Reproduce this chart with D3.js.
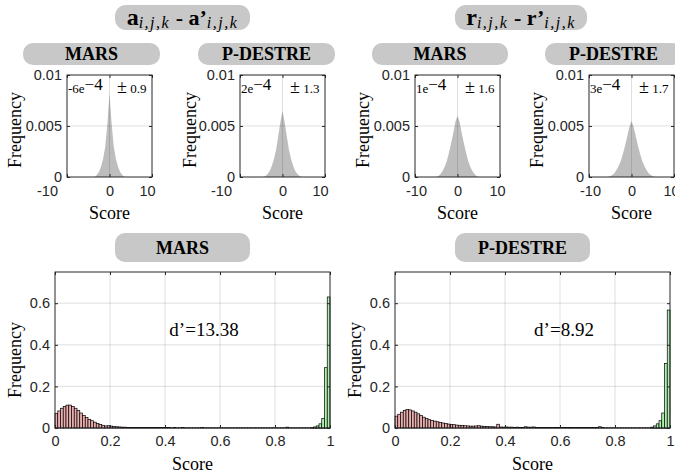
<!doctype html>
<html>
<head>
<meta charset="utf-8">
<script src="https://d3js.org/d3.v7.min.js"></script>
<style>
    body { margin: 0; background: #fff; }
    .tick text { font-family: "Liberation Sans", Arial, sans-serif; fill: #262626; }
    .lbl { font-family: "Liberation Serif", "Times New Roman", serif; fill: #000; }
</style>
</head>
<body>
<svg width="675" height="475" id="chart"></svg>
<script>
    // small histograms: score grid and frequencies
    var diffScore = [-6, -5.5, -5, -4.5, -4, -3.5, -3, -2.5, -2, -1.5, -1, -0.5, 0,
                     0.5, 1, 1.5, 2, 2.5, 3, 3.5, 4, 4.5, 5, 5.5, 6];
    var aMars    = [0, 0, 0, 0, 0, 0, 0.0002, 0.0005, 0.0010, 0.0018, 0.0030, 0.0052, 0.0082,
                    0.0052, 0.0030, 0.0018, 0.0010, 0.0005, 0.0002, 0, 0, 0, 0, 0, 0];
    var aDestre  = [0, 0, 0, 0, 0.0001, 0.0003, 0.0006, 0.0011, 0.0018, 0.0027, 0.0040, 0.0054, 0.0065,
                    0.0054, 0.0040, 0.0027, 0.0018, 0.0011, 0.0006, 0.0003, 0.0001, 0, 0, 0, 0];
    var rMars    = [0, 0, 0, 0.0001, 0.0003, 0.0006, 0.0010, 0.0016, 0.0024, 0.0033, 0.0043, 0.0054, 0.0060,
                    0.0054, 0.0043, 0.0033, 0.0024, 0.0016, 0.0010, 0.0006, 0.0003, 0.0001, 0, 0, 0];
    var rDestre  = [0, 0, 0.0001, 0.0002, 0.0004, 0.0007, 0.0011, 0.0016, 0.0023, 0.0031, 0.0040, 0.0049, 0.0055,
                    0.0049, 0.0040, 0.0031, 0.0023, 0.0016, 0.0011, 0.0007, 0.0004, 0.0002, 0.0001, 0, 0];
    var smallNotes = [["-6e", "0.9"], ["2e", "1.3"], ["1e", "1.6"], ["3e", "1.7"]];
    var smallXTicks = [-10, 0, 10];
    var smallYTicks = [0, 0.005, 0.01];

    // large histograms, bins of 0.01
    var impostorMars = [
        .070,.082,.095,.104,.110,.110,.104,.095,.085,.072,
        .060,.050,.041,.035,.028,.022,.017,.013,.010,.011,
        .009,.007,.006,.005,.004,.004,.003,.003,.003,.002,
        .003,.002,.002,.002,.003,.002,.002,.002,.002,.002,
        .002,.002,.001,.002,.001,.001,.002,.001,.001,.001,
        .001,.001,.001,.002,.001,.001,.001,.001,.001,.001,
        .001,.001,.001,.001,.001,.001,.001,.001,.001,.001,
        .001,.001,.001,.001,.001,.001,.001,.001,.001,.001,
        .001,.001,.001,.001,.004,.001,.001,.001,.001,.001,
        .001,.001,.001,.001,.001,.001,.001,.001,.001,.001];
    var impostorDestre = [
        .057,.066,.076,.085,.089,.087,.082,.076,.068,.060,
        .052,.045,.040,.036,.033,.030,.027,.024,.021,.019,
        .017,.016,.014,.013,.012,.011,.010,.009,.009,.010,
        .011,.009,.008,.007,.006,.006,.005,.018,.005,.004,
        .005,.004,.004,.003,.004,.003,.003,.006,.004,.004,
        .005,.003,.003,.002,.002,.002,.002,.002,.002,.002,
        .002,.002,.002,.002,.002,.002,.003,.002,.002,.002,
        .002,.002,.002,.002,.006,.002,.001,.001,.001,.001,
        .001,.001,.001,.001,.001,.001,.001,.001,.001,.001,
        .001,.001,.001,.001,.001,.001,.001,.001,.001,.001];
    var genuineBins = [0.90, 0.91, 0.92, 0.93, 0.94, 0.95, 0.96, 0.97, 0.98, 0.99];
    var genuineMars   = [0, 0, 0, 0.001, 0.005, 0.010, 0.020, 0.045, 0.290, 0.630];
    var genuineDestre = [0, 0, 0, 0.004, 0.010, 0.020, 0.035, 0.072, 0.310, 0.567];
    var bigXTicks = [0, 0.2, 0.4, 0.6, 0.8, 1];
    var bigYTicks = [0, 0.2, 0.4, 0.6];
    var dPrime = ["d’=13.38", "d’=8.92"];

    var svg = d3.select("#chart");

    function pill(x0, x1, y0, y1, r) {
        svg.append("rect").attr("x", x0).attr("y", y0)
           .attr("width", x1 - x0).attr("height", y1 - y0)
           .attr("rx", r).attr("ry", r).attr("fill", "#c8c8c8");
    }
    function pillText(x0, x1, y0, y1, txt) {
        pill(x0, x1, y0, y1, 10);
        svg.append("text").attr("class", "lbl")
           .attr("x", (x0 + x1) / 2).attr("y", (y0 + y1) / 2 + 6)
           .attr("text-anchor", "middle").attr("font-size", "18px")
           .attr("font-weight", "bold").text(txt);
    }

    // top formula titles
    function formula(x0, x1, letter) {
        pill(x0, x1, 5, 30, 11);
        var t = svg.append("text").attr("class", "lbl")
                   .attr("x", (x0 + x1) / 2).attr("y", 25).attr("text-anchor", "middle");
        t.append("tspan").attr("font-weight", "bold").attr("font-size", "24px").text(letter);
        t.append("tspan").attr("font-style", "italic").attr("font-size", "16px")
         .attr("letter-spacing", "1.5px").attr("dy", 3).text("i,j,k");
        t.append("tspan").attr("font-weight", "bold").attr("font-size", "22px").attr("dy", -3).text(" - " + letter + "’");
        t.append("tspan").attr("font-style", "italic").attr("font-size", "16px")
         .attr("letter-spacing", "1.5px").attr("dy", 3).text("i,j,k");
    }
    formula(115, 250, "a");
    formula(455, 587, "r");

    pillText(23, 160, 43, 65, "MARS");
    pillText(198, 335, 43, 65, "P-DESTRE");
    pillText(372, 508, 43, 65, "MARS");
    pillText(545, 682, 43, 65, "P-DESTRE");

    function frame(g, w, h, xs, ys, xt, yt) {
        g.selectAll(".gx").data(xt).enter().append("line")
         .attr("x1", function(d) { return xs(d); }).attr("x2", function(d) { return xs(d); })
         .attr("y1", 0).attr("y2", h).attr("stroke", "#262626").attr("stroke-opacity", 0.15);
        g.selectAll(".gy").data(yt).enter().append("line")
         .attr("y1", function(d) { return ys(d); }).attr("y2", function(d) { return ys(d); })
         .attr("x1", 0).attr("x2", w).attr("stroke", "#262626").attr("stroke-opacity", 0.15);
    }
    function clean(a) {
        a.select(".domain").remove();
        a.selectAll("line").attr("stroke", "#262626");
    }
    function axes(g, w, h, xs, ys, xt, yt, xpad) {
        var bx = g.append("g").attr("transform", "translate(0," + h + ")")
         .call(d3.axisBottom(xs).tickValues(xt).tickFormat(String).tickSizeInner(-3).tickSizeOuter(0).tickPadding(xpad))
         .call(clean);
        g.append("g")
         .call(d3.axisTop(xs).tickValues(xt).tickFormat("").tickSizeInner(-3).tickSizeOuter(0))
         .call(clean);
        g.append("g")
         .call(d3.axisLeft(ys).tickValues(yt).tickFormat(String).tickSizeInner(-3).tickSizeOuter(0).tickPadding(5))
         .call(clean);
        g.append("g").attr("transform", "translate(" + w + ",0)")
         .call(d3.axisRight(ys).tickValues(yt).tickFormat("").tickSizeInner(-3).tickSizeOuter(0))
         .call(clean);
        g.append("rect").attr("width", w).attr("height", h)
         .attr("fill", "none").attr("stroke", "#262626").attr("stroke-width", 1);
        g.selectAll(".tick text").attr("font-size", "14.5px");
        return bx;
    }

    // small difference histograms
    var smallSets = [aMars, aDestre, rMars, rDestre];
    var smallLeft = [67, 240, 415, 589];
    var smallFreqX = [21, 196, 369, 543];
    var smallLabelShift = [[-20, 0, -5], [-19, 0, -5], [1, 0, -3], [1, 0, -3]];
    smallSets.forEach(function(vals, i) {
        var w = 85, h = 102;
        var g = svg.append("g").attr("transform", "translate(" + smallLeft[i] + ",75)");
        var xs = d3.scaleLinear().domain([-10, 10]).range([0, w]);
        var ys = d3.scaleLinear().domain([0, 0.01]).range([h, 0]);
        var area = d3.area()
            .x(function(d, j) { return xs(diffScore[j]); })
            .y0(h).y1(function(d) { return ys(d); });
        g.append("path").datum(vals).attr("d", area).attr("fill", "#bdbdbd");
        frame(g, w, h, xs, ys, [0], [0.005]);
        var bx = axes(g, w, h, xs, ys, smallXTicks, smallYTicks, 9);
        bx.selectAll(".tick text").attr("dx", function(d, j) { return smallLabelShift[i][j]; });

        var t = g.append("text").attr("class", "lbl").attr("x", 1).attr("y", 18);
        t.append("tspan").attr("font-size", "13px").text(smallNotes[i][0]);
        t.append("tspan").attr("font-size", "17px").attr("dy", -3).text("−4");
        t.append("tspan").attr("x", 50).attr("dy", 3).attr("font-size", "18px").text("±");
        t.append("tspan").attr("font-size", "13px").text(" " + smallNotes[i][1]);

        svg.append("text").attr("class", "lbl").attr("font-size", "18px")
           .attr("text-anchor", "middle")
           .attr("transform", "translate(" + smallFreqX[i] + ",130) rotate(-90)")
           .text("Frequency");
        svg.append("text").attr("class", "lbl").attr("font-size", "18px")
           .attr("text-anchor", "middle")
           .attr("x", smallLeft[i] + w / 2).attr("y", 219).text("Score");
    });

    // large score histograms
    pillText(115, 250, 233, 262, "MARS");
    pillText(455, 590, 233, 262, "P-DESTRE");

    var bigImp = [impostorMars, impostorDestre];
    var bigGen = [genuineMars, genuineDestre];
    var bigLeft = [55, 395];
    var binStart = d3.range(0, 100).map(function(k) { return k / 100; });
    bigImp.forEach(function(imp, i) {
        var w = 275, h = 156;
        var g = svg.append("g").attr("transform", "translate(" + bigLeft[i] + ",272)");
        var xs = d3.scaleLinear().domain([0, 1]).range([0, w]);
        var ys = d3.scaleLinear().domain([0, 0.75]).range([h, 0]);
        frame(g, w, h, xs, ys, [0.2, 0.4, 0.6, 0.8], [0.2, 0.4, 0.6]);

        g.selectAll(".imp").data(imp).enter().append("rect")
         .attr("x", function(d, j) { return xs(binStart[j]); })
         .attr("width", xs(0.01) - xs(0))
         .attr("y", function(d) { return ys(d); })
         .attr("height", function(d) { return h - ys(d); })
         .attr("fill", "#eaaeae").attr("stroke", "#000").attr("stroke-width", 0.7);
        g.selectAll(".gen").data(bigGen[i]).enter().append("rect")
         .attr("x", function(d, j) { return xs(genuineBins[j]); })
         .attr("width", xs(0.01) - xs(0))
         .attr("y", function(d) { return ys(d); })
         .attr("height", function(d) { return h - ys(d); })
         .attr("fill", "#aef0ae").attr("stroke", "#000").attr("stroke-width", 0.7)
         .attr("stroke-opacity", function(d) { return d > 0 ? 1 : 0; });

        axes(g, w, h, xs, ys, bigXTicks, bigYTicks, 8);

        g.append("text").attr("class", "lbl").attr("font-size", "19px")
         .attr("text-anchor", "middle")
         .attr("x", i === 0 ? 149 : 169).attr("y", 64).text(dPrime[i]);

        svg.append("text").attr("class", "lbl").attr("font-size", "18px")
           .attr("text-anchor", "middle")
           .attr("transform", "translate(" + (bigLeft[i] - 34) + ",360) rotate(-90)")
           .text("Frequency");
        svg.append("text").attr("class", "lbl").attr("font-size", "18px")
           .attr("text-anchor", "middle")
           .attr("x", bigLeft[i] + w / 2).attr("y", 470).text("Score");
    });
</script>
</body>
</html>
